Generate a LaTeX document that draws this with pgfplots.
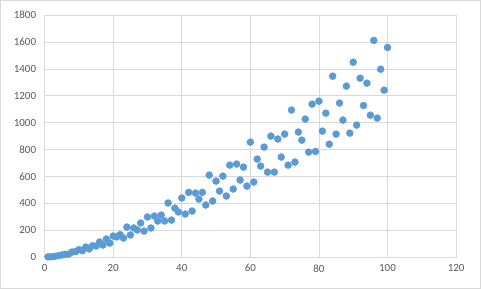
\documentclass[border=0pt]{standalone}
\usepackage{pgfplots}
\pgfplotsset{compat=1.18}
\usepackage{fontspec}
\setmainfont{Carlito}
\definecolor{dot}{HTML}{5B9BD5}
\definecolor{gridc}{HTML}{D9D9D9}
\definecolor{tickc}{HTML}{595959}
\begin{document}
\begin{tikzpicture}[x=1bp,y=1bp]
\draw[gridc,line width=0.8bp] (0.5,0.5) rectangle (480.5,288.5);
\begin{axis}[
  at={(44.7bp,32bp)}, anchor=south west,
  scale only axis, width=411.3bp, height=241.7bp,
  xmin=0, xmax=120, ymin=0, ymax=1800,
  xtick={0,20,...,120}, ytick={0,200,...,1800},
  grid=major, major grid style={gridc, line width=0.8bp},
  axis line style={gridc, line width=0.8bp},
  tick style={draw=none},
  ticklabel style={font=\fontsize{11}{13}\selectfont, text=tickc},
  /pgf/number format/assume math mode=true,
  /pgf/number format/1000 sep={},
  yticklabel style={xshift=-5bp},
  xticklabel style={yshift=-4bp},
  clip=false,
]
\addplot[only marks, mark=*, mark size=3.5bp, mark options={fill=dot, draw=dot}] coordinates {
(1,1) (2,2) (3,5) (4,10) (5,15) (6,20) (7,22) (8,37) (9,40) (10,55)
(11,47) (12,74) (13,60) (14,84) (15,82) (16,112) (17,89) (18,134) (19,104) (20,156)
(21,149) (22,166) (23,141) (24,223) (25,164) (26,216) (27,201) (28,253) (29,193) (30,298)
(31,216) (32,305) (33,268) (34,312) (35,268) (36,402) (37,275) (38,364) (39,335) (40,439)
(41,320) (42,481) (43,342) (44,476) (45,431) (46,481) (47,387) (48,610) (49,417) (50,565)
(51,491) (52,602) (53,454) (54,684) (55,506) (56,692) (57,573) (58,669) (59,528) (60,855)
(61,558) (62,729) (63,677) (64,818) (65,632) (66,900) (67,632) (68,878) (69,744) (70,915)
(71,684) (72,1094) (73,707) (74,930) (75,870) (76,1027) (77,781) (78,1138) (79,786) (80,1160)
(81,937) (82,1071) (83,840) (84,1346) (85,915) (86,1146) (87,1019) (88,1272) (89,922) (90,1450)
(91,982) (92,1331) (93,1128) (94,1294) (95,1056) (96,1612) (97,1034) (98,1398) (99,1242) (100,1560)
};
\end{axis}
\end{tikzpicture}
\end{document}
